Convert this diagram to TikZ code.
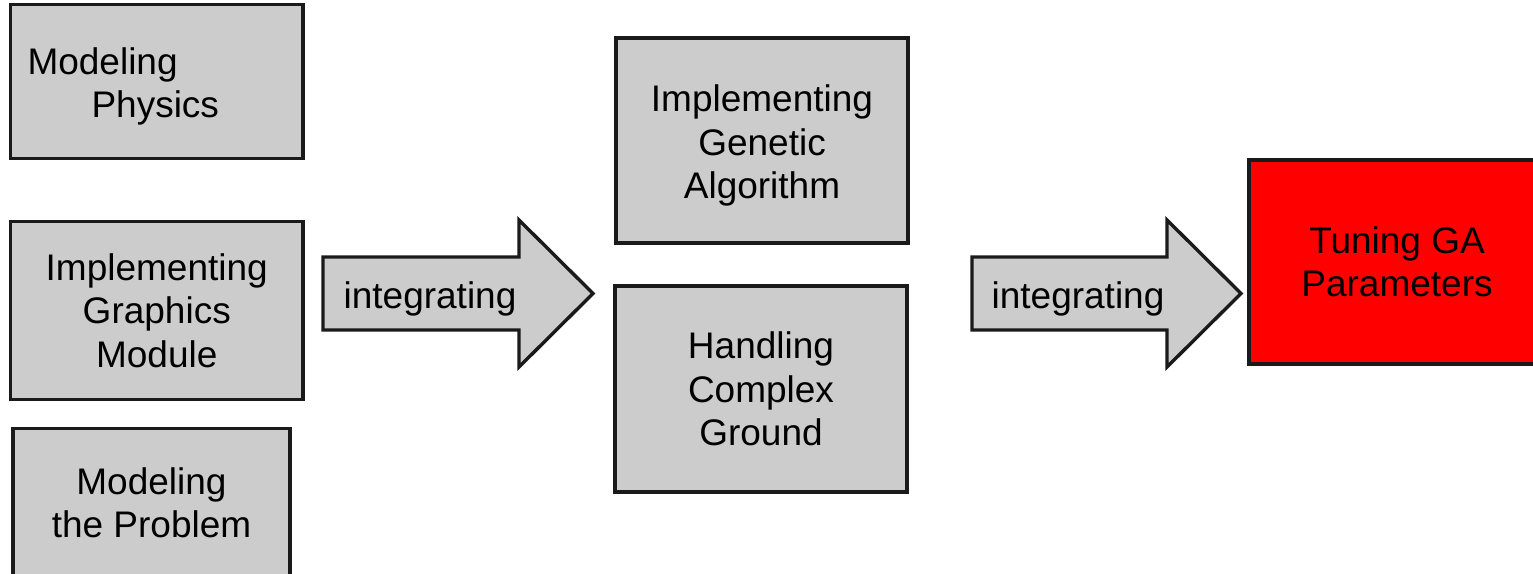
\documentclass[tikz,border=0pt]{standalone}
\usepackage{fontspec}
\setmainfont{Liberation Sans}
\definecolor{stagegray}{HTML}{CCCCCC}
\definecolor{edgecol}{HTML}{1A1A1A}
\definecolor{hotred}{HTML}{FF0000}
\begin{document}
\begin{tikzpicture}[x=1pt,y=-1pt,
  labelfont/.style={font=\fontsize{37}{43.5}\selectfont},
  stage/.style={rectangle, draw=edgecol, line width=3.4pt, fill=stagegray,
    inner sep=0pt, align=center, labelfont, line join=miter},
  goal/.style={stage, fill=hotred},
  flow/.style={draw=edgecol, line width=3.4pt, fill=stagegray, line join=miter},
  flowtext/.style={inner sep=0pt, labelfont},
  plaintext/.style={inner sep=0pt, labelfont}]
\useasboundingbox (0,0) rectangle (1533,573);
\clip (0,0) rectangle (1533,573);

% first column: groundwork
\node[stage, minimum width=292.5pt, minimum height=154pt] (physics) at (156.75,81.5) {};
\node[plaintext, anchor=west, align=left] (physicstext)
  at ([xshift=18.5pt,yshift=-5pt]physics.west) {Modeling\\\hspace*{64pt}Physics};
\node[stage, minimum width=292.5pt, minimum height=178pt] (graphics) at (156.75,310.5)
  {Implementing\\Graphics\\Module};
\node[stage, minimum width=277pt, minimum height=149pt] (problem) at (151.5,503)
  {Modeling\\the Problem};

% first integration step
\draw[flow] (323,257) -- (519,257) -- (519,220) -- (593,293.5) -- (519,367)
  -- (519,330) -- (323,330) -- cycle;
\node[flowtext] (int1) at (430,299) {integrating};

% second column: the algorithm
\node[stage, minimum width=292pt, minimum height=205pt] (genetic) at (762,140.5) {};
\node[plaintext, align=center] (genetictext) at ([yshift=-5pt]genetic.center)
  {Implementing\\Genetic\\Algorithm};
\node[stage, minimum width=292pt, minimum height=206pt] (ground) at (761,389)
  {Handling\\Complex\\Ground};

% second integration step
\draw[flow] (972,257) -- (1167,257) -- (1167,220) -- (1241,293.5) -- (1167,367)
  -- (1167,330) -- (972,330) -- cycle;
\node[flowtext] (int2) at (1078,299) {integrating};

% final stage
\node[goal, minimum width=296pt, minimum height=204pt] (tuning) at (1397,262)
  {Tuning GA\\Parameters};
\end{tikzpicture}
\end{document}
